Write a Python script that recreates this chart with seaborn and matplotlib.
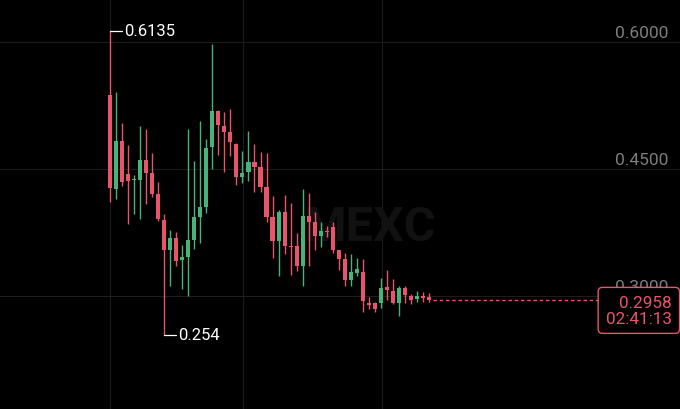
import numpy as np
import pandas as pd
import matplotlib
matplotlib.use("Agg")
import matplotlib.pyplot as plt
import matplotlib.transforms as mtransforms
import seaborn as sns

# candle data (oldest -> newest)
opens = [0.5374, 0.4264, 0.4831, 0.4441, 0.4370, 0.4370, 0.4606, 0.4453, 0.4205, 0.3898,
         0.3543, 0.3685, 0.3425, 0.3461, 0.3661, 0.3933, 0.4051, 0.4760, 0.5185, 0.5008,
         0.4937, 0.4795, 0.4406, 0.4465, 0.4583, 0.4524, 0.4287, 0.3933, 0.3650, 0.3992,
         0.3591, 0.3591, 0.3354, 0.3945, 0.3874, 0.3709, 0.3768, 0.3815, 0.3543, 0.3437,
         0.3189, 0.3272, 0.3283, 0.2917, 0.2917, 0.2917, 0.3106, 0.3059, 0.2917, 0.3094,
         0.3000, 0.2965, 0.3000, 0.2988]
highs = [0.6135, 0.5409, 0.5043, 0.4783, 0.4429, 0.5008, 0.4972, 0.4689, 0.4347, 0.3969,
         0.3780, 0.3756, 0.3602, 0.4972, 0.4594, 0.5067, 0.4854, 0.5976, 0.5197, 0.5173,
         0.5209, 0.4807, 0.4713, 0.4949, 0.4795, 0.4701, 0.4689, 0.4181, 0.4016, 0.4193,
         0.4098, 0.3744, 0.4264, 0.4217, 0.3992, 0.3874, 0.3827, 0.3874, 0.3543, 0.3508,
         0.3496, 0.3449, 0.3437, 0.2988, 0.2929, 0.3213, 0.3307, 0.3201, 0.3118, 0.3118,
         0.3024, 0.3059, 0.3047, 0.3035]
lows = [0.4110, 0.4146, 0.4299, 0.3850, 0.3969, 0.3909, 0.4087, 0.4169, 0.3886, 0.2540,
        0.3118, 0.3354, 0.3083, 0.3000, 0.3555, 0.3626, 0.3980, 0.4500, 0.4665, 0.4465,
        0.4654, 0.4311, 0.4335, 0.4358, 0.4228, 0.4228, 0.3874, 0.3449, 0.3236, 0.3496,
        0.3248, 0.3295, 0.3118, 0.3354, 0.3543, 0.3579, 0.3697, 0.3508, 0.3307, 0.3118,
        0.3118, 0.3236, 0.2811, 0.2846, 0.2811, 0.2858, 0.2953, 0.2906, 0.2764, 0.2917,
        0.2906, 0.2929, 0.2929, 0.2929]
closes = [0.4276, 0.4831, 0.4347, 0.4358, 0.4382, 0.4606, 0.4453, 0.4205, 0.3909, 0.3543,
          0.3685, 0.3413, 0.3461, 0.3661, 0.3933, 0.4051, 0.4748, 0.5185, 0.5020, 0.4937,
          0.4819, 0.4406, 0.4453, 0.4583, 0.4524, 0.4287, 0.3933, 0.3650, 0.3992, 0.3591,
          0.3579, 0.3354, 0.3945, 0.3874, 0.3709, 0.3768, 0.3756, 0.3543, 0.3437, 0.3189,
          0.3283, 0.3319, 0.2941, 0.2894, 0.2846, 0.3094, 0.3071, 0.2917, 0.3094, 0.3012,
          0.2953, 0.3000, 0.2976, 0.2958]

price_ticks = [0.6000, 0.4500, 0.3000]
tick_labels = ["0.6000", "0.4500", "0.3000"]
vgrid_pos = [0, 22.1, 45.2]  # vertical grid lines (candle index units)
last_price = 0.2958
countdown = "02:41:13"
max_label = "0.6135"
min_label = "0.254"

df = pd.DataFrame({"open": opens, "high": highs, "low": lows, "close": closes})
df["idx"] = np.arange(len(df))
df["up"] = df["close"] >= df["open"]

RED = "#e8556a"
GREEN = "#46b479"
BG = "#000000"

sns.set_theme(style="dark")
plt.rcParams["font.family"] = ["Roboto", "DejaVu Sans"]

fig = plt.figure(figsize=(6.8, 4.1), dpi=100, facecolor=BG)
ax = fig.add_axes([0, 0, 1, 1])
ax.set_facecolor(BG)

# grid
for p in price_ticks:
    ax.axhline(p, color="#1c1c1c", lw=0.8, zorder=0)
for v in vgrid_pos:
    ax.axvline(v, color="#1c1c1c", lw=0.8, zorder=0)

# watermark
ax.text(0.545, 0.444, "MEXC", transform=ax.transAxes, ha="center", va="center",
        fontsize=35, fontweight="bold", color="#111111", zorder=0.5)

colors = np.where(df["up"], GREEN, RED)
ax.vlines(df["idx"], df["low"], df["high"], colors=colors, lw=1.0, zorder=2)
body_lo = np.minimum(df["open"], df["close"])
body_h = np.maximum(np.abs(df["close"] - df["open"]), 0.0015)
ax.bar(df["idx"], body_h, bottom=body_lo, width=0.68, color=colors, linewidth=0, zorder=3)

# max / min markers
imax = int(df["high"].idxmax())
imin = int(df["low"].idxmin())
ax.plot([imax, imax + 2], [df["high"][imax]] * 2, color="white", lw=0.9, zorder=4)
ax.text(imax + 2.4, df["high"][imax], max_label, color="white", fontsize=12,
        va="center", ha="left", zorder=4)
ax.plot([imin, imin + 2], [df["low"][imin]] * 2, color="white", lw=0.9, zorder=4)
ax.text(imin + 2.4, df["low"][imin], min_label, color="white", fontsize=12,
        va="center", ha="left", zorder=4)

ax.set_xlim(-18.27, 94.68)
ax.set_ylim(0.1665, 0.6508)

# price labels on the right
trans = mtransforms.blended_transform_factory(ax.transAxes, ax.transData)
for p, lab in zip(price_ticks, tick_labels):
    ax.text(0.983, p + 0.0018, lab, transform=trans, ha="right", va="bottom",
            color="#7d7d80", fontsize=12.5, zorder=1)

# last price line + box
ax.plot([len(df) - 0.3, 81.5], [last_price, last_price], color=RED, lw=1.0,
        linestyle=(0, (2.5, 2)), zorder=2)
ax.text(0.988, last_price - 0.0128, f"{last_price:.4f}\n{countdown}", transform=trans,
        ha="right", va="center", multialignment="right", color=RED, fontsize=12.3,
        linespacing=1.05, zorder=6,
        bbox=dict(boxstyle="round,pad=0.45,rounding_size=0.25", facecolor=BG,
                  edgecolor=RED, linewidth=1.0))

ax.set_xticks([])
ax.set_yticks([])
for s in ax.spines.values():
    s.set_visible(False)

fig.savefig("out.png", dpi=100, facecolor=BG)
